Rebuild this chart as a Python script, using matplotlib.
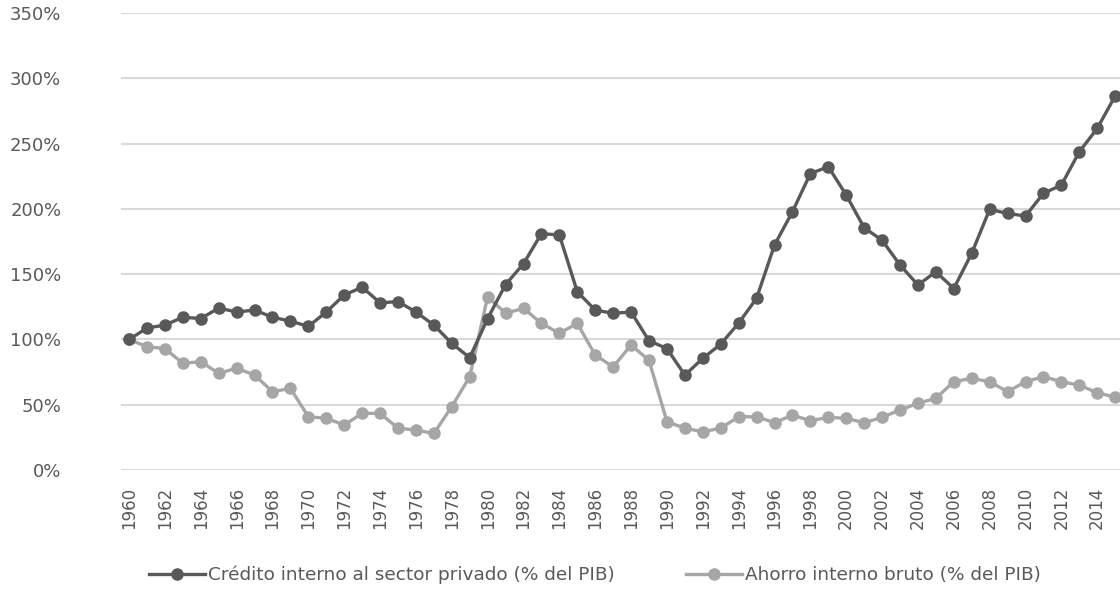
import matplotlib
matplotlib.use("Agg")
import matplotlib.pyplot as plt
from matplotlib.ticker import FuncFormatter

# years 1960..2015
years = list(range(1960, 2016))

# Crédito interno al sector privado (% del PIB), indexed 1960 = 100
credito = [100, 108.7, 111, 117, 116, 124, 121, 122.5, 117, 114,
           110, 121, 134, 140, 128, 129, 121, 111, 97, 86,
           116, 142, 158, 181, 180, 136.5, 122.5, 120, 121, 99,
           93, 72.7, 85.5, 96.4, 112.5, 131.5, 172.3, 197.8, 227, 232.3,
           210.6, 185.5, 176, 157, 141.7, 151.8, 139, 166, 199.6, 196.5,
           194.5, 211.9, 218.2, 243.7, 261.6, 286.4]

# Ahorro interno bruto (% del PIB), indexed 1960 = 100
ahorro = [100, 94.4, 93, 81.7, 83, 74, 78, 72.7, 60, 62.5,
          40.8, 39.6, 34.5, 43.4, 43.4, 32, 30.6, 28, 48.5, 71.5,
          132.7, 120, 123.8, 112.3, 104.7, 112.3, 88, 79, 95.7, 84,
          37, 32, 29.3, 32, 40.8, 40.8, 36.2, 42, 37.8, 40.3,
          39.6, 36.2, 40.3, 46, 51, 55, 67.6, 70.2, 67.6, 60,
          67.6, 71.5, 67.6, 65, 59.2, 55.7]

label_credito = "Crédito interno al sector privado (% del PIB)"
label_ahorro = "Ahorro interno bruto (% del PIB)"

plt.rcParams['font.family'] = ['DejaVu Sans']

fig = plt.figure(figsize=(11.2, 5.92), dpi=100)
# plot area in pixel terms: x 121..1120, y 13..470
ax = fig.add_axes([121 / 1120, (592 - 470) / 592, 999 / 1120, 457 / 592])

ax.plot(years, credito, color='#595959', lw=2.4, marker='o', ms=8,
        label=label_credito, zorder=3)
ax.plot(years, ahorro, color='#a6a6a6', lw=2.4, marker='o', ms=8,
        label=label_ahorro, zorder=2)

ax.set_xlim(1959.55, 2015.27)
ax.set_ylim(0, 350)
ax.set_yticks(range(0, 351, 50))
ax.yaxis.set_major_formatter(FuncFormatter(lambda v, p: f"{int(v)}%"))
ax.set_xticks(years[::2])
ax.set_xticklabels([str(y) for y in years[::2]], rotation=90)

ax.grid(axis='y', color='#d9d9d9', lw=1.5)
ax.set_axisbelow(True)
for s in ax.spines.values():
    s.set_visible(False)
ax.tick_params(axis='y', length=0, pad=43, labelsize=13, labelcolor='#595959')
ax.tick_params(axis='x', length=0, pad=12, labelsize=12, labelcolor='#595959')

fig.legend(loc='center', bbox_to_anchor=(595 / 1120, 1 - 575 / 592), ncol=2,
           frameon=False, fontsize=13.3, handlelength=3.0, handletextpad=0.15,
           columnspacing=3.9, labelcolor='#595959')

fig.savefig("out.png", dpi=100)
